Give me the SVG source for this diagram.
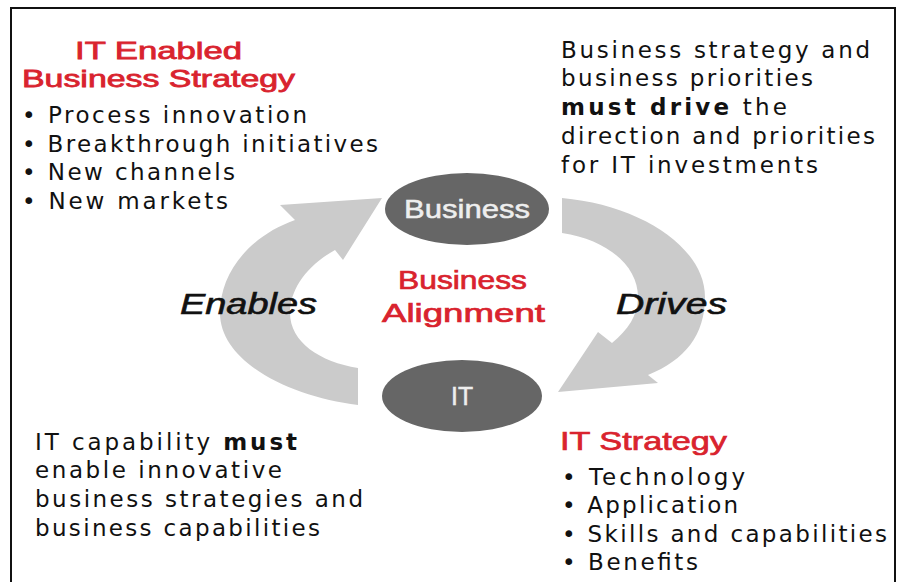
<svg xmlns="http://www.w3.org/2000/svg" width="899" height="582" viewBox="0 0 899 582">
  <style>
    .body { font-family: "DejaVu Sans", Verdana, sans-serif; font-size: 23px; fill: #111; }
    .red { font-family: "Liberation Sans", Arial, sans-serif; font-size: 26px; fill: #d9232e; stroke: #d9232e; stroke-width: 0.7; }
    .redsm { font-family: "Liberation Sans", Arial, sans-serif; font-size: 24px; fill: #d9232e; stroke: #d9232e; stroke-width: 0.8; }
    .verb { font-family: "Liberation Sans", Arial, sans-serif; font-size: 29px; font-style: italic; fill: #111; stroke: #111; stroke-width: 0.6; }
    .node { fill: #666666; }
    .nodetext { font-family: "Liberation Sans", Arial, sans-serif; font-size: 25px; fill: #eeeeee; stroke: #eeeeee; stroke-width: 0.5; }
    .arrow { fill: #cbcbcb; }
  </style>
  <rect x="0" y="0" width="899" height="582" fill="#ffffff"/>
  <rect x="11" y="8" width="884" height="600" fill="#ffffff" stroke="#111" stroke-width="2"/>

  <g id="connectors">
    <path id="enables-arrow" class="arrow" d="M358,405 C290,397 220,362 220,313 C220,272 250,236 295,220 L280,205 L382,198 L343,260 L335,250 C306,266 290,290 290,313 C290,342 320,362 358,368 Z"/>
    <path id="drives-arrow" class="arrow" d="M562,198 C640,205 705,247 705,297 C705,335 685,360 648,375 L658,383 L558,392 L598,332 L612,343 C628,330 638,315 638,297 C638,266 608,240 562,233 Z"/>
  </g>

  <g id="node-business">
    <ellipse class="node" cx="467" cy="209" rx="82" ry="36"/>
    <text class="nodetext" x="404" y="218" textLength="126" lengthAdjust="spacingAndGlyphs">Business</text>
  </g>
  <g id="node-it">
    <ellipse class="node" cx="462" cy="396" rx="80" ry="36"/>
    <text class="nodetext" x="451" y="405" textLength="22" lengthAdjust="spacingAndGlyphs">IT</text>
  </g>

  <g id="label-center">
    <text class="red" x="398" y="289" textLength="129" lengthAdjust="spacingAndGlyphs">Business</text>
    <text class="red" x="382" y="322" textLength="163" lengthAdjust="spacingAndGlyphs">Alignment</text>
  </g>
  <g id="label-enables">
    <text class="verb" x="180" y="314" textLength="137" lengthAdjust="spacingAndGlyphs">Enables</text>
  </g>
  <g id="label-drives">
    <text class="verb" x="616" y="314" textLength="111" lengthAdjust="spacingAndGlyphs">Drives</text>
  </g>

  <g id="it-enabled-strategy">
    <text class="redsm" x="75" y="59" textLength="167" lengthAdjust="spacingAndGlyphs">IT Enabled</text>
    <text class="redsm" x="22" y="87" textLength="273" lengthAdjust="spacingAndGlyphs">Business Strategy</text>
    <text class="body" x="22" y="123" textLength="285" lengthAdjust="spacing">• Process innovation</text>
    <text class="body" x="22" y="152" textLength="356" lengthAdjust="spacing">• Breakthrough initiatives</text>
    <text class="body" x="22" y="180" textLength="213" lengthAdjust="spacing">• New channels</text>
    <text class="body" x="22" y="209" textLength="206" lengthAdjust="spacing">• New markets</text>
  </g>

  <g id="business-drives-note">
    <text class="body" x="561" y="58" textLength="309" lengthAdjust="spacing">Business strategy and</text>
    <text class="body" x="561" y="86" textLength="252" lengthAdjust="spacing">business priorities</text>
    <text class="body" x="561" y="115" textLength="226" lengthAdjust="spacing"><tspan font-weight="bold">must drive</tspan> the</text>
    <text class="body" x="561" y="144" textLength="314" lengthAdjust="spacing">direction and priorities</text>
    <text class="body" x="561" y="173" textLength="257" lengthAdjust="spacing">for IT investments</text>
  </g>

  <g id="it-enables-note">
    <text class="body" x="35" y="450" textLength="262" lengthAdjust="spacing">IT capability <tspan font-weight="bold">must</tspan></text>
    <text class="body" x="35" y="478" textLength="247" lengthAdjust="spacing">enable innovative</text>
    <text class="body" x="35" y="507" textLength="328" lengthAdjust="spacing">business strategies and</text>
    <text class="body" x="35" y="536" textLength="285" lengthAdjust="spacing">business capabilities</text>
  </g>

  <g id="it-strategy">
    <text class="red" x="560" y="450" textLength="167" lengthAdjust="spacingAndGlyphs">IT Strategy</text>
    <text class="body" x="562" y="485" textLength="183" lengthAdjust="spacing">• Technology</text>
    <text class="body" x="562" y="513" textLength="176" lengthAdjust="spacing">• Application</text>
    <text class="body" x="562" y="542" textLength="325" lengthAdjust="spacing">• Skills and capabilities</text>
    <text class="body" x="562" y="570" textLength="136" lengthAdjust="spacing">• Benefits</text>
  </g>
</svg>
